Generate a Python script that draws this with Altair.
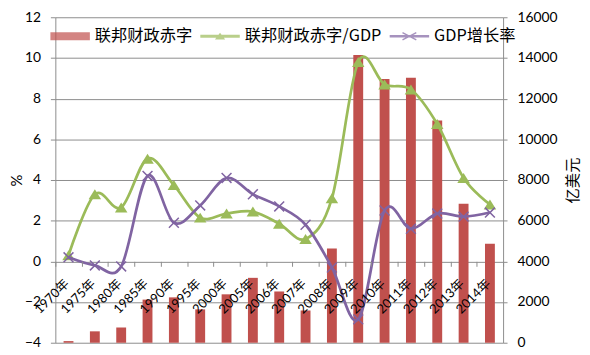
import altair as alt
import pandas as pd

years = ["1970年", "1975年", "1980年", "1985年", "1990年", "1995年", "2000年", "2005年",
         "2006年", "2007年", "2008年", "2009年", "2010年", "2011年", "2012年", "2013年", "2014年"]
deficit = [80, 560, 750, 2120, 2230, 1640, 2380, 3190, 2520, 1590, 4630, 14140, 12960, 13030, 10920, 6830, 4860]
ratio = [0.3, 3.3, 2.65, 5.05, 3.75, 2.15, 2.35, 2.45, 1.85, 1.1, 3.1, 9.8, 8.7, 8.45, 6.75, 4.1, 2.8]
growth = [0.2, -0.2, -0.25, 4.2, 1.9, 2.75, 4.1, 3.3, 2.7, 1.8, -0.3, -2.85, 2.5, 1.6, 2.35, 2.2, 2.4]

series_names = ["联邦财政赤字", "联邦财政赤字/GDP", "GDP增长率"]
series_colors = ["#C0504D", "#9BBB59", "#8064A2"]

legend_paths = [
    "M-1,-0.2H1V0.2H-1Z",
    "M-1,-0.07H1V0.07H-1Z M-0.26,0.16L0,-0.18L0.26,0.16Z",
    "M-1,-0.06H1V0.06H-1Z "
    "M-0.334,-0.211L0.366,0.149L0.334,0.211L-0.366,-0.149Z "
    "M-0.366,0.149L0.334,-0.211L0.366,-0.149L-0.334,0.211Z",
]
tri_path = "M-1,0.8L1,0.8L0,-0.8Z"
cross_path = "M-1,-1L1,1M-1,1L1,-1"

W, H = 454, 330
FONT = "Lato, Noto Sans CJK SC"
CJK = "Noto Sans CJK SC"
GRID = "#8c8c8c"

df = pd.DataFrame({"year": years, "deficit": deficit, "ratio": ratio, "growth": growth})
legend_df = pd.DataFrame({"series": series_names})

x_enc = alt.X(
    "year:N", sort=years,
    scale=alt.Scale(paddingInner=0, paddingOuter=0),
    axis=alt.Axis(title=None, labelAngle=-45, labelAlign="right", labelBaseline="middle",
                  offset=-H * 4 / 16, grid=False, domain=False,
                  tickColor=GRID, tickBand="extent", tickSize=5, zindex=1,
                  labelFontSize=13, labelFont=FONT, labelColor="#000",
                  labelPadding=15, labelOffset=-2),
)

left_scale = alt.Scale(domain=[-4, 12], nice=False)

bars = alt.Chart(df).mark_bar(color=series_colors[0], size=10).encode(
    x=x_enc,
    y=alt.Y("deficit:Q", scale=alt.Scale(domain=[0, 16000], nice=False),
            axis=alt.Axis(orient="right", values=list(range(0, 16001, 2000)), format="d",
                          title="亿美元", titleAngle=-90, titleX=70, titleY=H / 2,
                          titleAlign="center", titleBaseline="middle", titleFont=CJK,
                          titleFontSize=15.5, titleFontWeight="normal", titleColor="#000",
                          grid=False, domainColor=GRID, tickColor=GRID, tickSize=4,
                          labelPadding=10, labelFontSize=14, labelFont=FONT, labelColor="#000")),
)

ratio_line = alt.Chart(df).mark_line(color=series_colors[1], strokeWidth=2.75,
                                     interpolate="cardinal", tension=0).encode(
    x=x_enc,
    y=alt.Y("ratio:Q", scale=left_scale,
            axis=alt.Axis(orient="left", values=list(range(-4, 13, 2)), title="%",
                          titleAngle=-90, titleX=-39, titleY=H / 2, titleAlign="center",
                          titleBaseline="middle", titleFont=FONT, titleFontSize=15,
                          titleFontWeight="normal", titleColor="#000",
                          grid=True, gridColor=GRID, domainColor=GRID, tickColor=GRID,
                          tickSize=5, labelPadding=10, labelFontSize=14, labelFont=FONT,
                          labelColor="#000")),
)
ratio_pts = alt.Chart(df).mark_point(shape=tri_path, filled=True, color=series_colors[1],
                                     size=160, opacity=1).encode(
    x=x_enc, y=alt.Y("ratio:Q", scale=left_scale, axis=None))

growth_line = alt.Chart(df).mark_line(color=series_colors[2], strokeWidth=2.75,
                                      interpolate="cardinal", tension=0).encode(
    x=x_enc, y=alt.Y("growth:Q", scale=left_scale, axis=None))
growth_pts = alt.Chart(df).mark_point(shape=cross_path, filled=False, color=series_colors[2],
                                      size=100, strokeWidth=1.5, opacity=1).encode(
    x=x_enc, y=alt.Y("growth:Q", scale=left_scale, axis=None))

leg = alt.Legend(title=None, orient="none", legendX=-5, legendY=-1, direction="horizontal",
                 symbolSize=1600, symbolStrokeWidth=0, labelFont=CJK, labelFontSize=16.5,
                 labelColor="#000", labelOffset=5, columnPadding=8, padding=0)

legend_layer = alt.Chart(legend_df).transform_filter("datum.series == 'none'").mark_point(
    filled=True).encode(
    color=alt.Color("series:N", scale=alt.Scale(domain=series_names, range=series_colors), legend=leg),
    shape=alt.Shape("series:N", scale=alt.Scale(domain=series_names, range=legend_paths), legend=leg),
)

chart = alt.layer(bars, ratio_line, ratio_pts, growth_line, growth_pts, legend_layer).resolve_scale(
    y="independent").properties(
    width=W, height=H,
    padding={"left": 48, "top": 7, "right": 80, "bottom": 7},
    autosize=alt.AutoSizeParams(type="none"),
).configure_view(stroke=None)

chart.save("out.html", embed_options={"renderer": "svg", "actions": False})
